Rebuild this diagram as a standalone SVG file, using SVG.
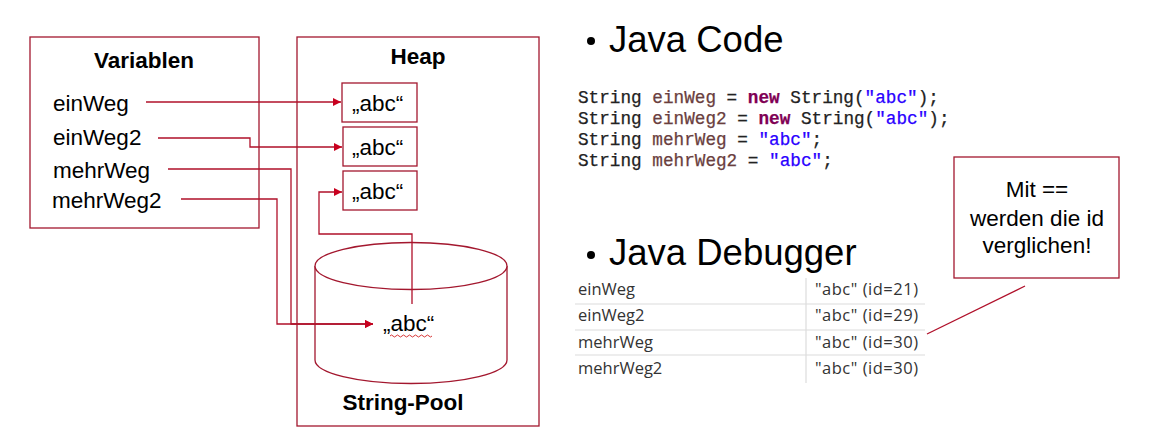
<svg xmlns="http://www.w3.org/2000/svg" width="1175" height="432" viewBox="0 0 1175 432">
  <style>
    .frame { fill: #ffffff; stroke: #a3172e; stroke-width: 1.3; }
    .title { font-family: "Liberation Sans", Arial, sans-serif; font-weight: bold; font-size: 22.5px; fill: #000; }
    .label { font-family: "Liberation Sans", Arial, sans-serif; font-size: 22.5px; fill: #000; }
    .head { font-family: "Liberation Sans", Arial, sans-serif; font-size: 36.5px; fill: #000; }
    .code { font-family: "Liberation Mono", "DejaVu Sans Mono", monospace; font-size: 17.7px; fill: #222; stroke: #222; stroke-width: 0.25; }
    .code .var { fill: #6a3e3e; stroke: #6a3e3e; }
    .code .kw { fill: #7f0055; stroke: #7f0055; font-weight: bold; }
    .code .str { fill: #2a00ff; stroke: #2a00ff; }
    .dbg { font-family: "Open Sans", "Noto Sans", sans-serif; font-size: 16.5px; fill: #333; }
    .grid { stroke: #dcdcdc; stroke-width: 1.2; }
    .conn { fill: none; stroke: #b0102a; stroke-width: 1.3; }
  </style>
  <defs>
    <marker id="arrow" viewBox="0 0 10 10" refX="10" refY="5" markerUnits="userSpaceOnUse" markerWidth="9" markerHeight="8" orient="auto">
      <path d="M0,0 L10,5 L0,10 z" fill="#c8001e"/>
    </marker>
  </defs>
  <rect width="1175" height="432" fill="#ffffff"/>

  <!-- stack variables -->
  <g id="variablen">
    <rect class="frame" x="30" y="37" width="229" height="191"/>
    <text class="title" x="144" y="68" text-anchor="middle">Variablen</text>
    <text class="label" x="53" y="111">einWeg</text>
    <text class="label" x="53" y="145">einWeg2</text>
    <text class="label" x="53" y="178">mehrWeg</text>
    <text class="label" x="52" y="208">mehrWeg2</text>
  </g>

  <!-- heap area -->
  <g id="heap">
    <rect class="frame" x="297" y="37" width="242" height="389"/>
    <text class="title" x="418" y="64" text-anchor="middle">Heap</text>
  </g>

  <g id="heap-obj1">
    <rect class="frame" x="342" y="83" width="75" height="39"/>
    <text class="label" x="352" y="111">„abc“</text>
  </g>
  <g id="heap-obj2">
    <rect class="frame" x="343" y="127" width="74" height="39"/>
    <text class="label" x="352" y="155">„abc“</text>
  </g>
  <g id="heap-obj3">
    <rect class="frame" x="343" y="171" width="74" height="39"/>
    <text class="label" x="352" y="199">„abc“</text>
  </g>

  <!-- string pool cylinder -->
  <g id="string-pool">
    <path class="frame" d="M315,266 V360 A96,23.5 0 0 0 507,360 V266"/>
    <ellipse class="frame" cx="411" cy="266" rx="96" ry="23.5"/>
    <text class="label" x="383" y="331">„abc“</text>
    <path d="M390,336 q1.5,-2 3,0 t3,0 t3,0 t3,0 t3,0 t3,0 t3,0 t3,0 t3,0 t3,0 t3,0 t3,0 t3,0 t3,0" fill="none" stroke="#d02020" stroke-width="0.9"/>
    <text class="title" x="403" y="410" text-anchor="middle" font-size="23.5">String-Pool</text>
  </g>

  <!-- references -->
  <g id="connectors">
    <path class="conn" d="M146,102 H341" marker-end="url(#arrow)"/>
    <path class="conn" d="M158,138 H250 V147 H342" marker-end="url(#arrow)"/>
    <path class="conn" d="M168,169 H291 V324 H373" marker-end="url(#arrow)"/>
    <path class="conn" d="M181,199 H277 V324 H373" marker-end="url(#arrow)"/>
    <path class="conn" d="M412,304 V234 H319 V192 H342" marker-end="url(#arrow)"/>
    <path class="conn" d="M1025,286 L927,334"/>
  </g>

  <!-- Java code section -->
  <g id="java-code">
    <circle cx="591" cy="41" r="4"/>
    <text class="head" x="609" y="52">Java Code</text>
    <text class="code" x="578" y="103">String <tspan class="var">einWeg</tspan> = <tspan class="kw">new</tspan> String(<tspan class="str">"abc"</tspan>);</text>
    <text class="code" x="578" y="124">String <tspan class="var">einWeg2</tspan> = <tspan class="kw">new</tspan> String(<tspan class="str">"abc"</tspan>);</text>
    <text class="code" x="578" y="145">String <tspan class="var">mehrWeg</tspan> = <tspan class="str">"abc"</tspan>;</text>
    <text class="code" x="578" y="166">String <tspan class="var">mehrWeg2</tspan> = <tspan class="str">"abc"</tspan>;</text>
  </g>

  <!-- debugger view -->
  <g id="java-debugger">
    <circle cx="591" cy="255" r="4"/>
    <text class="head" x="609" y="265">Java Debugger</text>
    <line class="grid" x1="806" y1="278" x2="806" y2="383"/>
    <line class="grid" x1="575" y1="304" x2="925" y2="304"/>
    <line class="grid" x1="575" y1="330" x2="925" y2="330"/>
    <line class="grid" x1="575" y1="355" x2="925" y2="355"/>
    <text class="dbg" x="578" y="295">einWeg</text>
    <text class="dbg" x="578" y="321">einWeg2</text>
    <text class="dbg" x="578" y="348">mehrWeg</text>
    <text class="dbg" x="578" y="374">mehrWeg2</text>
    <text class="dbg" x="815" y="295" textLength="103">"abc" (id=21)</text>
    <text class="dbg" x="815" y="321" textLength="103">"abc" (id=29)</text>
    <text class="dbg" x="815" y="348" textLength="103">"abc" (id=30)</text>
    <text class="dbg" x="815" y="374" textLength="103">"abc" (id=30)</text>
  </g>

  <!-- note -->
  <g id="callout">
    <rect class="frame" x="954" y="157" width="165" height="121"/>
    <text class="label" x="1037" y="197" text-anchor="middle">Mit ==</text>
    <text class="label" x="1037" y="226" text-anchor="middle">werden die id</text>
    <text class="label" x="1037" y="253" text-anchor="middle">verglichen!</text>
  </g>
</svg>
